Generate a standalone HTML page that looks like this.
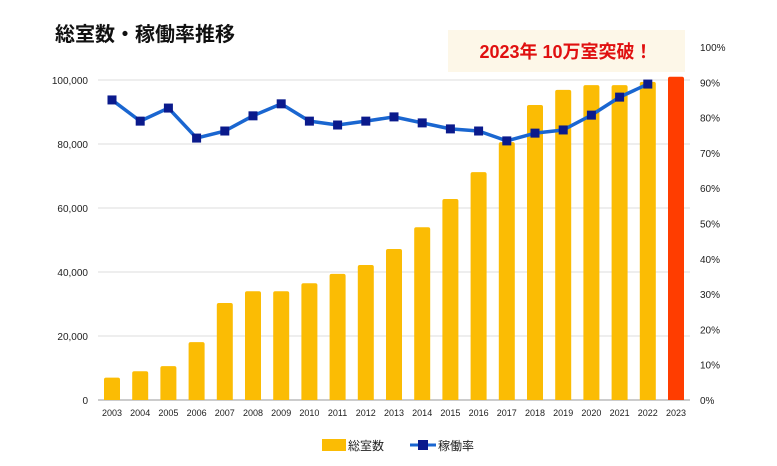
<!DOCTYPE html>
<html><head><meta charset="utf-8"><style>
body{margin:0;background:#fff;width:777px;height:461px;overflow:hidden;font-family:"Liberation Sans","Noto Sans CJK JP",sans-serif}
</style></head><body>
<svg id="c" width="777" height="461" xmlns="http://www.w3.org/2000/svg" font-family="Liberation Sans, Noto Sans CJK JP, sans-serif">
<text x="55" y="41" font-size="20" font-weight="bold" fill="#111">総室数・稼働率推移</text>
<rect x="448" y="30" width="237" height="42" fill="#fdf7e8"/>
<text x="566" y="58" font-size="18" font-weight="bold" fill="#e01010" text-anchor="middle">2023年 10万室突破！</text>
<g id="grid"></g><g id="bars"></g><g id="line"></g><g id="axes"></g>
<g>
<rect x="322" y="439" width="24" height="12" fill="#fbbc04"/>
<text x="348" y="450" font-size="12" fill="#222">総室数</text>
<line x1="410" y1="445" x2="436" y2="445" stroke="#1a66d0" stroke-width="3"/>
<rect x="418" y="440" width="10" height="10" fill="#0a1a8c"/>
<text x="438" y="450" font-size="12" fill="#222">稼働率</text>
</g>
</svg>
<script>
const years=["2003","2004","2005","2006","2007","2008","2009","2010","2011","2012","2013","2014","2015","2016","2017","2018","2019","2020","2021","2022","2023"];
const rooms=[7000,9000,10600,18100,30300,34000,34000,36500,39400,42200,47200,54000,62800,71200,80600,92200,96900,98400,98400,99400,101000];
const rate=[85,79,82.7,74.2,76.2,80.5,83.9,79,77.9,79,80.2,78.5,76.8,76.2,73.4,75.6,76.5,80.7,85.8,89.5,null];
const leftTicks=[0,20000,40000,60000,80000,100000];
const rightTicks=[0,10,20,30,40,50,60,70,80,90,100];
const NS="http://www.w3.org/2000/svg";
const x=i=>112+i*28.2;
const yL=v=>400-v*0.0032;
const yR=v=>400-v*3.53;
function mk(t,a,p){const e=document.createElementNS(NS,t);for(const k in a)e.setAttribute(k,a[k]);document.getElementById(p).appendChild(e);return e;}
leftTicks.forEach(v=>{
 if(v>0){const g=mk('line',{x1:98,x2:690,y1:yL(v),y2:yL(v),stroke:'#ddd','stroke-width':1},'grid');
 
 }
 const t=mk('text',{x:88,y:yL(v)+4,'font-size':10,'text-anchor':'end',fill:'#222'},'axes');t.textContent=v.toLocaleString('en-US');
 
 
});
mk('line',{x1:98,x2:690,y1:400,y2:400,stroke:'#999'},'grid');
rightTicks.forEach(v=>{
 const t=mk('text',{x:700,y:yR(v)+4,'font-size':10,fill:'#222'},'axes');t.textContent=v+'%';
 
 
});
years.forEach((yr,i)=>{
 const t=mk('text',{x:x(i),y:416,'font-size':9,'text-anchor':'middle',fill:'#222'},'axes');t.textContent=yr;
 
 
 const top=yL(rooms[i]);
 const b=mk('path',{d:`M${x(i)-8},400V${top+2}Q${x(i)-8},${top} ${x(i)-6},${top}H${x(i)+6}Q${x(i)+8},${top} ${x(i)+8},${top+2}V400Z`,fill:i===20?'#ff3d00':'#fbbc04'},'bars');
 
 
});
let d='';rate.forEach((v,i)=>{if(v!=null)d+=(d?'L':'M')+x(i)+','+yR(v);});
const pl=mk('path',{d:d,fill:'none',stroke:'#1a66d0','stroke-width':3.5,'stroke-linejoin':'round'},'line');


rate.forEach((v,i)=>{if(v==null)return;
 const r=mk('rect',{x:x(i)-4.5,y:yR(v)-4.5,width:9,height:9,fill:'#0a1a8c'},'line');
 
 
});
</script>
</body></html>
